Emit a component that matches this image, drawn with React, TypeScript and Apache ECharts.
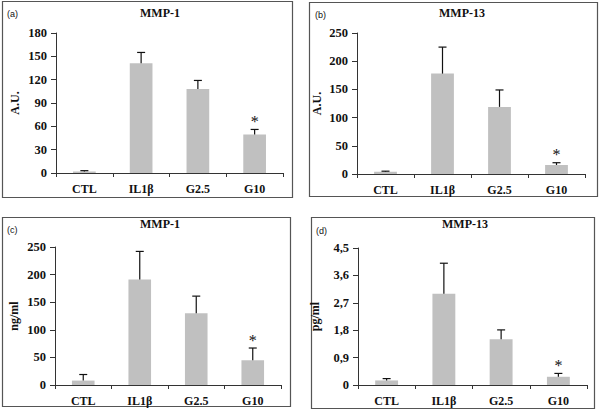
import React, { useEffect, useRef } from 'react';
import * as echarts from 'echarts';

const categories = ['CTL', 'IL1β', 'G2.5', 'G10'];
const significance = ['', '', '', '*'];

const mmp1AU = [2, 141, 108, 49.5];
const mmp1AUErr = [1, 14, 11, 6.5];
const mmp13AU = [4, 178, 119, 16];
const mmp13AUErr = [1, 47, 30, 4];
const mmp1Ng = [8, 191, 130, 45];
const mmp1NgErr = [11, 51, 31, 22];
const mmp13Pg = [0.15, 3.0, 1.5, 0.27];
const mmp13PgErr = [0.06, 1.0, 0.31, 0.11];

const panelLabels = ['(a)', '(b)', '(c)', '(d)'];
const panelTitles = ['MMP-1', 'MMP-13', 'MMP-1', 'MMP-13'];
const yNames = ['A.U.', 'A.U.', 'ng/ml', 'pg/ml'];
const yMax = [180, 250, 250, 4.5];
const yInterval = [30, 50, 50, 0.9];
const seriesValues = [mmp1AU, mmp13AU, mmp1Ng, mmp13Pg];
const seriesErrors = [mmp1AUErr, mmp13AUErr, mmp1NgErr, mmp13PgErr];

// layout (pixels)
const grids = [
  { left: 56, top: 33, width: 227, height: 140 },
  { left: 357, top: 33, width: 228, height: 141 },
  { left: 55, top: 247, width: 226, height: 138 },
  { left: 358, top: 248, width: 229, height: 137 },
];
const borders = [
  { x: 2, y: 1, w: 290, h: 196 },
  { x: 309, y: 2, w: 288, h: 194 },
  { x: 2, y: 217, w: 288, h: 189 },
  { x: 311, y: 217, w: 283, h: 191 },
];
const titlePos = [
  { x: 160, y: 13 },
  { x: 462, y: 13 },
  { x: 160, y: 224 },
  { x: 465, y: 224 },
];
const labelPos = [
  { x: 7, y: 14 },
  { x: 315, y: 15 },
  { x: 7, y: 230 },
  { x: 316, y: 231 },
];
const nameGaps = [35, 34, 35, 37];

const SERIF = '"Liberation Serif", "Times New Roman", serif';
const SANS = '"Liberation Sans", Arial, sans-serif';

export default function App() {
  const ref = useRef<HTMLDivElement>(null);
  useEffect(() => {
    if (!ref.current) return;
    const chart = echarts.init(ref.current, undefined, { renderer: 'svg' });

    const xAxis: any[] = [];
    const yAxis: any[] = [];
    const series: any[] = [];
    const graphic: any[] = [];

    for (let i = 0; i < 4; i++) {
      xAxis.push({
        type: 'category',
        gridIndex: i,
        data: categories,
        axisLine: { lineStyle: { color: '#333', width: 1 } },
        axisTick: { show: true, alignWithLabel: false, length: 4, lineStyle: { color: '#333' } },
        axisLabel: {
          color: '#111',
          fontFamily: SERIF,
          fontWeight: 'bold',
          fontSize: 12,
          margin: 10,
        },
      });
      const isComma = i === 3;
      yAxis.push({
        type: 'value',
        gridIndex: i,
        min: 0,
        max: yMax[i],
        interval: yInterval[i],
        name: yNames[i],
        nameLocation: 'middle',
        nameGap: nameGaps[i],
        nameRotate: 90,
        nameTextStyle: {
          color: '#111',
          fontFamily: SERIF,
          fontWeight: 'bold',
          fontSize: 12,
        },
        splitLine: { show: false },
        axisLine: { show: true, lineStyle: { color: '#333', width: 1 } },
        axisTick: { show: true, length: 5, lineStyle: { color: '#333' } },
        axisLabel: {
          color: '#111',
          fontFamily: SERIF,
          fontWeight: 'bold',
          fontSize: 12.5,
          margin: 9,
          formatter: (v: number) => {
            if (v === 0) return '0';
            if (isComma) return v.toFixed(1).replace('.', ',');
            return String(Math.round(v));
          },
        },
      });
      series.push({
        type: 'bar',
        xAxisIndex: i,
        yAxisIndex: i,
        data: seriesValues[i],
        barWidth: '40%',
        itemStyle: { color: '#c0c0c0' },
        silent: true,
      });
      series.push({
        type: 'custom',
        xAxisIndex: i,
        yAxisIndex: i,
        data: seriesValues[i].map((v, k) => [k, v, seriesErrors[i][k], significance[k]]),
        z: 5,
        renderItem: (params: any, api: any) => {
          const idx = api.value(0);
          const v = api.value(1);
          const e = api.value(2);
          const sig = significance[idx];
          const base = api.coord([idx, v]);
          const top = api.coord([idx, v + e]);
          const cap = 4;
          const children: any[] = [
            {
              type: 'line',
              shape: { x1: base[0], y1: base[1], x2: top[0], y2: top[1] },
              style: { stroke: '#111', lineWidth: 1.2 },
            },
            {
              type: 'line',
              shape: { x1: top[0] - cap, y1: top[1], x2: top[0] + cap, y2: top[1] },
              style: { stroke: '#111', lineWidth: 1.2 },
            },
          ];
          if (sig) {
            children.push({
              type: 'text',
              style: {
                text: sig,
                x: top[0],
                y: top[1] - 8,
                align: 'center',
                verticalAlign: 'middle',
                fill: '#111',
                font: `16px ${SERIF}`,
              },
            });
          }
          return { type: 'group', children };
        },
      });

      const b = borders[i];
      graphic.push({
        type: 'rect',
        shape: { x: b.x + 0.5, y: b.y + 0.5, width: b.w, height: b.h },
        style: { fill: 'none', stroke: '#555', lineWidth: 1.2 },
        silent: true,
      });
      graphic.push({
        type: 'text',
        x: titlePos[i].x,
        y: titlePos[i].y,
        style: {
          text: panelTitles[i],
          align: 'center',
          verticalAlign: 'middle',
          fill: '#111',
          font: `bold 12px ${SERIF}`,
        },
      });
      graphic.push({
        type: 'text',
        x: labelPos[i].x,
        y: labelPos[i].y,
        style: {
          text: panelLabels[i],
          align: 'left',
          verticalAlign: 'middle',
          fill: '#111',
          font: `9px ${SANS}`,
        },
      });
    }

    chart.setOption({
      animation: false,
      backgroundColor: '#fff',
      grid: grids.map((g) => ({ ...g, containLabel: false })),
      xAxis,
      yAxis,
      series,
      graphic,
    });
    return () => chart.dispose();
  }, []);
  return (
    <div
      ref={ref}
      style={{ position: 'fixed', left: 0, top: 0, width: 600, height: 414 }}
    />
  );
}
